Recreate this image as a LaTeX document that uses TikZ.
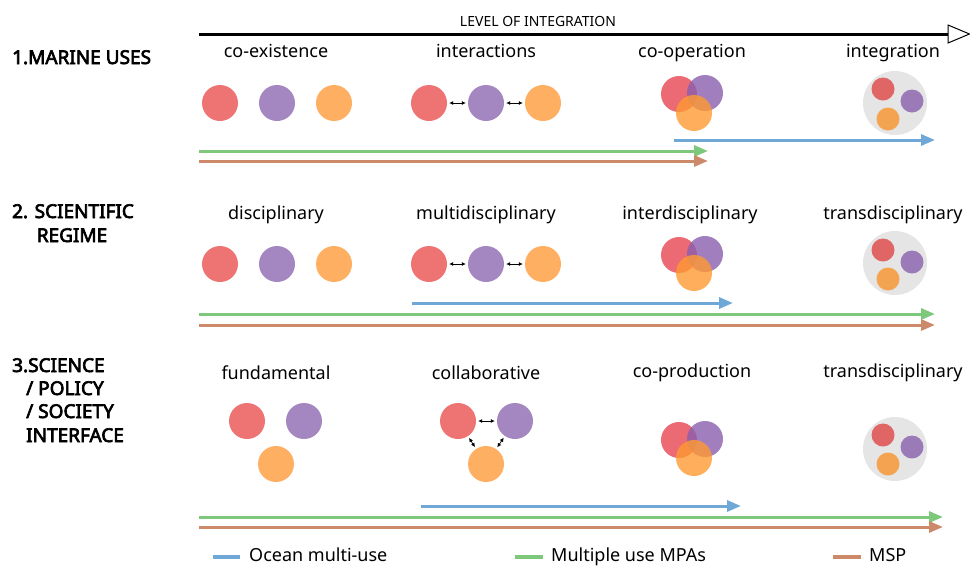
\documentclass[tikz,border=0pt]{standalone}
\usepackage{fontspec}
\setmainfont{Noto Sans}[AutoFakeBold=3.5]
\usetikzlibrary{arrows.meta}
\definecolor{cred}{HTML}{EE7474}
\definecolor{cpur}{HTML}{A487C0}
\definecolor{corg}{HTML}{FFAF62}
\definecolor{tred}{HTML}{E64550}
\definecolor{tpur}{HTML}{8A5FAE}
\definecolor{torg}{HTML}{FF9A33}
\definecolor{gred}{HTML}{E06565}
\definecolor{gpur}{HTML}{9A7BB8}
\definecolor{gorg}{HTML}{F4A450}
\definecolor{ggray}{HTML}{E5E5E5}
\definecolor{lblue}{HTML}{6FA8D6}
\definecolor{lgreen}{HTML}{7DC87A}
\definecolor{lbrown}{HTML}{CC8A6A}
\tikzset{
  dot/.style={circle,inner sep=0pt,minimum size=36pt},
  sdot/.style={circle,inner sep=0pt,minimum size=23pt},
  bigdot/.style={circle,inner sep=0pt,minimum size=64pt,fill=ggray},
  olap/.style={dot,fill opacity=0.8},
  lab/.style={font=\fontsize{18}{20}\selectfont,anchor=base},
  head/.style={font=\bfseries\fontsize{19}{23}\selectfont,anchor=base west,inner sep=0pt},
  headc/.style={head,anchor=base},
  dbl/.style={{Latex[length=4pt,width=4pt]}-{Latex[length=4pt,width=4pt]},line width=0.7pt,shorten <=2pt,shorten >=2pt},
  bar/.style={line width=3pt,-{Triangle[length=14pt,width=11pt]}},
  legline/.style={line width=3.5pt},
  legtxt/.style={font=\fontsize{18}{20}\selectfont,anchor=base west,inner sep=0pt}
}
\begin{document}
\begin{tikzpicture}[x=1pt,y=-1pt]
\useasboundingbox (0,0) rectangle (970,566);
% top axis
\coordinate (ax0) at (199,34);
\coordinate (ax1) at (949,34);
\draw[line width=3pt] (ax0) -- (ax1);
\draw[line width=1pt,fill=white] (948,25) -- (969.5,34) -- (948,43) -- cycle;
\node[font=\fontsize{14}{16}\selectfont,anchor=base] (axlab) at (538,26) {LEVEL OF INTEGRATION};

% headings
\node[head] (h1) at (12,64) {1.MARINE USES};
\node[headc] (h2a) at (73,218) {2. SCIENTIFIC};
\node[headc] (h2b) at (72,242) {REGIME};
\node[head] (h3a) at (12,372) {3.SCIENCE};
\node[head] (h3b) at (26,395) {/ POLICY};
\node[head] (h3c) at (26,418) {/ SOCIETY};
\node[head] (h3d) at (26,442) {INTERFACE};

% row 1 labels
\node[lab] (l11) at (276,57) {co-existence};
\node[lab] (l12) at (486,57) {interactions};
\node[lab] (l13) at (692,57) {co-operation};
\node[lab] (l14) at (893,57) {integration};
% row 2 labels
\node[lab] (l21) at (276,219) {disciplinary};
\node[lab] (l22) at (486,219) {multidisciplinary};
\node[lab] (l23) at (690,219) {interdisciplinary};
\node[lab] (l24) at (893,219) {transdisciplinary};
% row 3 labels
\node[lab] (l31) at (276,379) {fundamental};
\node[lab] (l32) at (486,379) {collaborative};
\node[lab] (l33) at (692,377) {co-production};
\node[lab] (l34) at (893,377) {transdisciplinary};

% ---- row 1 circles
\node[dot,fill=cred] (a1r) at (220,103) {};
\node[dot,fill=cpur] (a1p) at (277,103) {};
\node[dot,fill=corg] (a1o) at (334,103) {};
\node[dot,fill=cred] (a2r) at (429,103) {};
\node[dot,fill=cpur] (a2p) at (486,103) {};
\node[dot,fill=corg] (a2o) at (543,103) {};
\draw[dbl] (a2r) -- (a2p);
\draw[dbl] (a2p) -- (a2o);
\node[olap,fill=tred] (a3r) at (679,94) {};
\node[olap,fill=tpur] (a3p) at (705,93) {};
\node[olap,fill=torg] (a3o) at (694,113) {};
\node[bigdot] (a4g) at (895,103) {};
\node[sdot,fill=gred] (a4r) at (883,89) {};
\node[sdot,fill=gpur] (a4p) at (912,101) {};
\node[sdot,fill=gorg] (a4o) at (888,119) {};

% ---- row 2 circles
\node[dot,fill=cred] (b1r) at (220,264) {};
\node[dot,fill=cpur] (b1p) at (277,264) {};
\node[dot,fill=corg] (b1o) at (334,264) {};
\node[dot,fill=cred] (b2r) at (429,264) {};
\node[dot,fill=cpur] (b2p) at (486,264) {};
\node[dot,fill=corg] (b2o) at (543,264) {};
\draw[dbl] (b2r) -- (b2p);
\draw[dbl] (b2p) -- (b2o);
\node[olap,fill=tred] (b3r) at (679,255) {};
\node[olap,fill=tpur] (b3p) at (705,254) {};
\node[olap,fill=torg] (b3o) at (694,273) {};
\node[bigdot] (b4g) at (895,263) {};
\node[sdot,fill=gred] (b4r) at (883,250) {};
\node[sdot,fill=gpur] (b4p) at (912,262) {};
\node[sdot,fill=gorg] (b4o) at (888,279) {};

% ---- row 3 circles
\node[dot,fill=cred] (c1r) at (247,421) {};
\node[dot,fill=cpur] (c1p) at (304,421) {};
\node[dot,fill=corg] (c1o) at (276,464) {};
\node[dot,fill=cred] (c2r) at (458,421) {};
\node[dot,fill=cpur] (c2p) at (515,421) {};
\node[dot,fill=corg] (c2o) at (486,464) {};
\draw[dbl] (c2r) -- (c2p);
\draw[dbl] (c2r) -- (c2o);
\draw[dbl] (c2p) -- (c2o);
\node[olap,fill=tred] (c3r) at (679,440) {};
\node[olap,fill=tpur] (c3p) at (705,439) {};
\node[olap,fill=torg] (c3o) at (694,458) {};
\node[bigdot] (c4g) at (895,449) {};
\node[sdot,fill=gred] (c4r) at (883,435) {};
\node[sdot,fill=gpur] (c4p) at (912,447) {};
\node[sdot,fill=gorg] (c4o) at (888,464) {};

% ---- bars row 1
\coordinate (u1b0) at (674,140); \coordinate (u1b1) at (935,140);
\coordinate (u1g0) at (199,151); \coordinate (u1g1) at (708,151);
\coordinate (u1r0) at (199,161); \coordinate (u1r1) at (708,161);
\draw[bar,lblue] (u1b0) -- (u1b1);
\draw[bar,lgreen] (u1g0) -- (u1g1);
\draw[bar,lbrown] (u1r0) -- (u1r1);
% ---- bars row 2
\coordinate (u2b0) at (412,303); \coordinate (u2b1) at (733,303);
\coordinate (u2g0) at (199,314); \coordinate (u2g1) at (935,314);
\coordinate (u2r0) at (199,325); \coordinate (u2r1) at (935,325);
\draw[bar,lblue] (u2b0) -- (u2b1);
\draw[bar,lgreen] (u2g0) -- (u2g1);
\draw[bar,lbrown] (u2r0) -- (u2r1);
% ---- bars row 3
\coordinate (u3b0) at (421,506); \coordinate (u3b1) at (741,506);
\coordinate (u3g0) at (199,517); \coordinate (u3g1) at (943,517);
\coordinate (u3r0) at (199,527); \coordinate (u3r1) at (943,527);
\draw[bar,lblue] (u3b0) -- (u3b1);
\draw[bar,lgreen] (u3g0) -- (u3g1);
\draw[bar,lbrown] (u3r0) -- (u3r1);

% ---- legend
\coordinate (lg1a) at (213,557); \coordinate (lg1b) at (240,557);
\coordinate (lg2a) at (515,557); \coordinate (lg2b) at (543,557);
\coordinate (lg3a) at (833,557); \coordinate (lg3b) at (861,557);
\draw[legline,lblue] (lg1a) -- (lg1b);
\draw[legline,lgreen] (lg2a) -- (lg2b);
\draw[legline,lbrown] (lg3a) -- (lg3b);
\node[legtxt] (t1) at (249,561) {Ocean multi-use};
\node[legtxt] (t2) at (551,561) {Multiple use MPAs};
\node[legtxt] (t3) at (869,561) {MSP};
\end{tikzpicture}
\end{document}
